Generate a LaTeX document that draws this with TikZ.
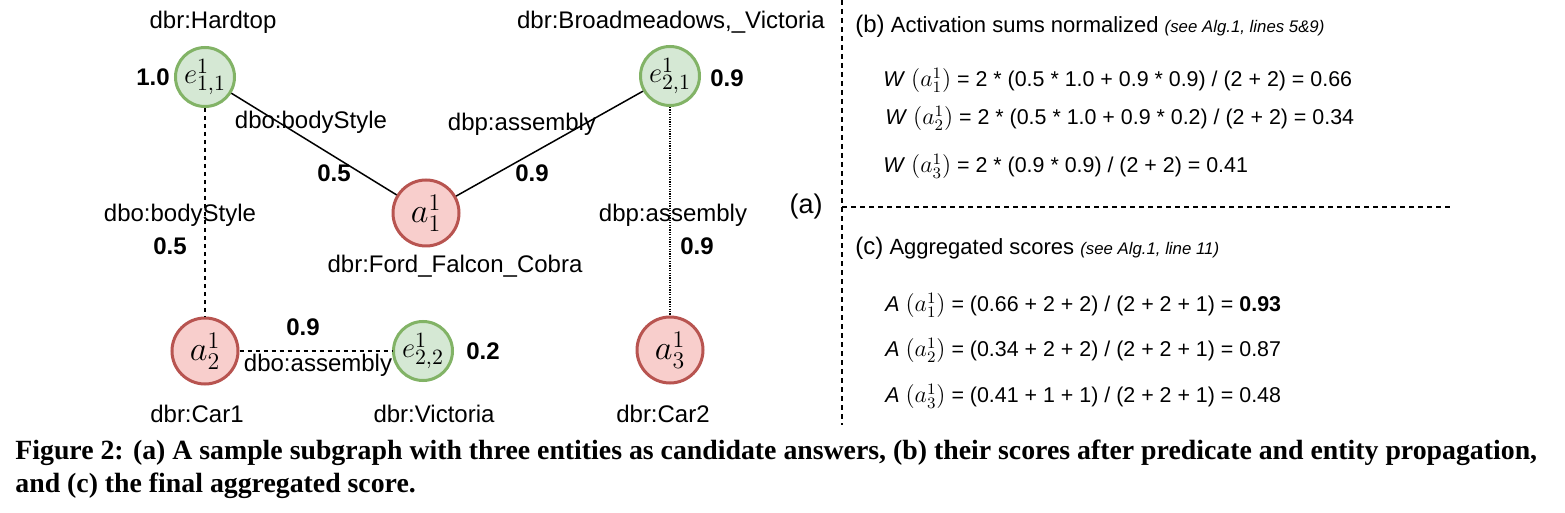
\documentclass[tikz,border=0pt]{standalone}
\usepackage{fontspec}
\setmainfont{Liberation Sans}
\newfontfamily\capfont{Liberation Serif}
\definecolor{gfill}{HTML}{D5E8D4}
\definecolor{gdraw}{HTML}{82B366}
\definecolor{rfill}{HTML}{F8CECC}
\definecolor{rdraw}{HTML}{B85450}
\newcommand\eqa[1]{{\fontsize{12bp}{12bp}\selectfont$(a^1_{#1})$}}
\begin{document}
\begin{tikzpicture}[x=0.5bp,y=-0.5bp,
  ent/.style={circle,draw=gdraw,fill=gfill,line width=1.5bp,minimum size=29.5bp,inner sep=0pt,font=\fontsize{15.5bp}{15.5bp}\selectfont},
  ans/.style={circle,draw=rdraw,fill=rfill,line width=1.5bp,minimum size=33bp,inner sep=0pt,font=\fontsize{18bp}{18bp}\selectfont},
  lbl/.style={font=\fontsize{12bp}{14bp}\selectfont,inner sep=0pt},
  num/.style={font=\fontsize{12bp}{14bp}\selectfont\bfseries,inner sep=0pt},
  edgeline/.style={line width=0.75bp},
  dashline/.style={line width=0.75bp,dash pattern=on 2bp off 2bp},
  dotline/.style={line width=0.75bp,dash pattern=on 0.6bp off 0.6bp},
  sepline/.style={line width=0.6bp,dash pattern=on 2.5bp off 2bp},
  eqline/.style={font=\fontsize{10.7bp}{13bp}\selectfont,inner sep=0pt,anchor=base west},
  capline/.style={font=\fontsize{13.9bp}{16bp}\capfont\bfseries,inner sep=0pt,anchor=base west}
]
\useasboundingbox[fill=white] (0,0) rectangle (1565,513);
% nodes
\node[ent] (e11) at (205,77) {$e^1_{1,1}$};
\node[ent] (e21) at (670,76) {$e^1_{2,1}$};
\node[ans] (a11) at (426,213) {$a^1_1$};
\node[ans] (a21) at (205,351) {$a^1_2$};
\node[ent] (e22) at (423,351) {$e^1_{2,2}$};
\node[ans] (a31) at (670,350) {$a^1_3$};
% edges
\draw[edgeline] (e11) -- (a11);
\draw[edgeline] (a11) -- (e21);
\draw[dashline] (e11) -- (a21);
\draw[dotline] (e21) -- (a31);
\draw[dashline] (a21) -- (e22);
% labels
\node[lbl] (l1) at (213,22) {dbr:Hardtop};
\node[lbl] (l2) at (671,22) {dbr:Broadmeadows,\_Victoria};
\node[lbl] (l3) at (455,266) {dbr:Ford\_Falcon\_Cobra};
\node[lbl] (l4) at (197,414) {dbr:Car1};
\node[lbl] (l5) at (434,414) {dbr:Victoria};
\node[lbl] (l6) at (663,414) {dbr:Car2};
\node[font=\fontsize{13.5bp}{15bp}\selectfont,inner sep=0pt] (la) at (806,207) {(a)};
\node[lbl] (p1) at (311,122) {dbo:bodyStyle};
\node[num] (n1) at (334,173) {0.5};
\node[lbl] (p2) at (522,124) {dbp:assembly};
\node[num] (n2) at (532,173) {0.9};
\node[lbl] (p3) at (180,215) {dbo:bodyStyle};
\node[num] (n3) at (170,246) {0.5};
\node[lbl] (p4) at (673,215) {dbp:assembly};
\node[num] (n4) at (697,246) {0.9};
\node[num] (n5) at (303,327) {0.9};
\node[lbl] (p5) at (318,365) {dbo:assembly};
\node[num] (s1) at (153,77) {1.0};
\node[num] (s2) at (727,78) {0.9};
\node[num] (s3) at (483,351) {0.2};
% separators
\coordinate (v1) at (842,0);
\coordinate (v2) at (842,425);
\coordinate (h1) at (842,207);
\coordinate (h2) at (1450,207);
\draw[sepline] (v1) -- (v2);
\draw[sepline] (h1) -- (h2);
% panel b
\node[eqline,font=\fontsize{11bp}{13bp}\selectfont] (bh) at (855,33) {{\fontsize{12bp}{14bp}\selectfont(b)} Activation sums normalized {\fontsize{8.4bp}{10bp}\selectfont\itshape(see Alg.1, lines 5\&9)}};
\node[eqline] (b1) at (883,87) {\textit{W} \eqa{1} = 2 * (0.5 * 1.0 + 0.9 * 0.9) / (2 + 2) = 0.66};
\node[eqline] (b2) at (885,125) {\textit{W} \eqa{2} = 2 * (0.5 * 1.0 + 0.9 * 0.2) / (2 + 2) = 0.34};
\node[eqline] (b3) at (883,173) {\textit{W} \eqa{3} = 2 * (0.9 * 0.9) / (2 + 2) = 0.41};
% panel c
\node[eqline,font=\fontsize{11bp}{13bp}\selectfont] (ch) at (855,255) {{\fontsize{12bp}{14bp}\selectfont(c)} Aggregated scores {\fontsize{8.4bp}{10bp}\selectfont\itshape(see Alg.1, line 11)}};
\node[eqline] (c1) at (885,312) {\textit{A} \eqa{1} = (0.66 + 2 + 2) / (2 + 2 + 1) = \textbf{0.93}};
\node[eqline] (c2) at (885,357) {\textit{A} \eqa{2} = (0.34 + 2 + 2) / (2 + 2 + 1) = 0.87};
\node[eqline] (c3) at (885,403) {\textit{A} \eqa{3} = (0.41 + 1 + 1) / (2 + 2 + 1) = 0.48};
% caption
\node[capline] (cap1) at (15,460) {Figure 2: (a) A sample subgraph with three entities as candidate answers, (b) their scores after predicate and entity propagation,};
\node[capline] (cap2) at (15,492) {and (c) the final aggregated score.};
\end{tikzpicture}
\end{document}
